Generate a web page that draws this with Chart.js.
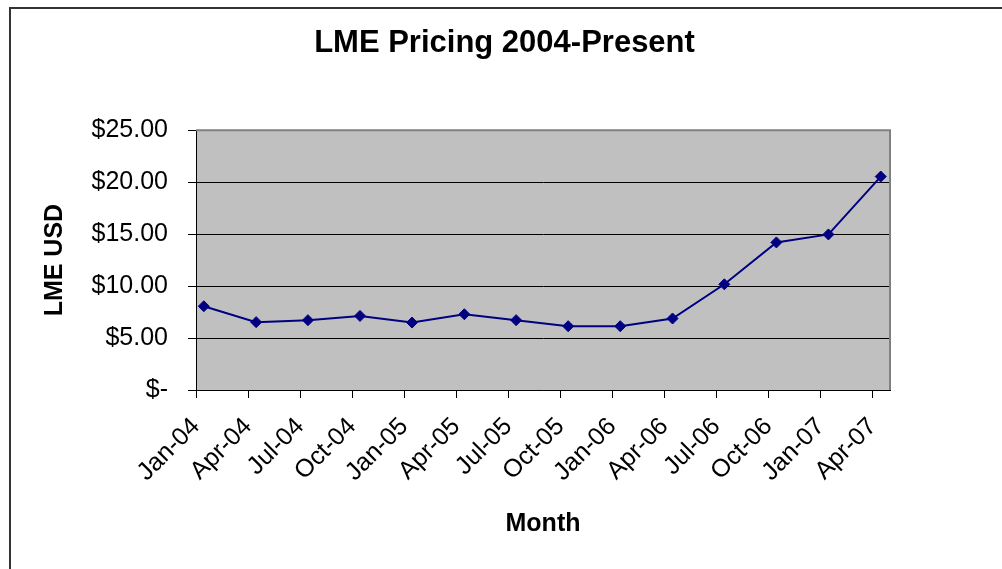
<!DOCTYPE html>
<html>
<head>
<meta charset="utf-8">
<script src="https://cdn.jsdelivr.net/npm/chart.js@4.4.0/dist/chart.umd.min.js"></script>
<style>
  html, body { margin: 0; padding: 0; background: #ffffff; overflow: hidden; }
  #frame { position: absolute; left: 9px; top: 7px; width: 1100px; height: 700px; border: 2px solid #333333; box-sizing: border-box; }
  #wrap { position: absolute; left: 0; top: 0; width: 1002px; height: 569px; }
</style>
</head>
<body>
<div id="frame"></div>
<div id="wrap"><canvas id="c" width="1002" height="569"></canvas></div>
<script>
// ---- data ----
const chartTitle = 'LME Pricing 2004-Present';
const xAxisTitle = 'Month';
const yAxisTitle = 'LME USD';
const categories = ['2004-01-15','2004-04-15','2004-07-15','2004-10-15','2005-01-15','2005-04-15','2005-07-15',
                    '2005-10-15','2006-01-15','2006-04-15','2006-07-15','2006-10-15','2007-01-15','2007-04-15'];
const lmeUsd = [8.06, 6.53, 6.72, 7.13, 6.49, 7.29, 6.72, 6.14, 6.14, 6.88, 10.17, 14.20, 14.97, 20.54];
const xTickLabels = ['Jan-04','Apr-04','Jul-04','Oct-04','Jan-05','Apr-05','Jul-05','Oct-05','Jan-06','Apr-06',
                     'Jul-06','Oct-06','Jan-07','Apr-07'];
const xAxisStart = '2004-01-01';
const xAxisEnd = '2007-05-01';
const yTickValues = [0, 5, 10, 15, 20, 25];
const yTickLabels = ['$-', '$5.00', '$10.00', '$15.00', '$20.00', '$25.00'];

// ---- helpers: convert dates to months since Jan 2004 ----
const monthNames = ['Jan','Feb','Mar','Apr','May','Jun','Jul','Aug','Sep','Oct','Nov','Dec'];
function dateToMonths(s) {
  const [y, m, d] = s.split('-').map(Number);
  const dim = new Date(y, m, 0).getDate();
  return (y - 2004) * 12 + (m - 1) + (d - 1) / dim;
}
function labelToMonths(lbl) {
  const [mn, yy] = lbl.split('-');
  return (2000 + Number(yy) - 2004) * 12 + monthNames.indexOf(mn);
}
const xTickValues = xTickLabels.map(labelToMonths);
const points = categories.map((c, i) => ({ x: dateToMonths(c), y: lmeUsd[i] }));

const FONT = "'Liberation Sans', Arial, sans-serif";

const plotBg = {
  id: 'plotBg',
  beforeDraw(chart) {
    const { ctx, chartArea: a } = chart;
    ctx.save();
    ctx.fillStyle = '#C0C0C0';
    ctx.fillRect(a.left, a.top, a.right - a.left, a.bottom - a.top);
    ctx.restore();
  },
  afterDraw(chart) {
    const { ctx, chartArea: a } = chart;
    ctx.save();
    ctx.strokeStyle = '#808080';
    ctx.lineWidth = 2;
    ctx.beginPath();
    ctx.moveTo(a.left, a.top);
    ctx.lineTo(a.right, a.top);
    ctx.lineTo(a.right, a.bottom);
    ctx.stroke();
    ctx.restore();
  }
};

new Chart(document.getElementById('c'), {
  type: 'line',
  data: {
    datasets: [{
      label: yAxisTitle,
      data: points,
      yAxisID: 'y',
      borderColor: '#000080',
      backgroundColor: '#000080',
      borderWidth: 2,
      pointStyle: 'rectRot',
      pointRadius: 5.5,
      pointBorderWidth: 1,
      pointBackgroundColor: '#000080',
      pointBorderColor: '#000080',
      tension: 0,
      fill: false
    }]
  },
  options: {
    responsive: false,
    animation: false,
    devicePixelRatio: 1,
    layout: { padding: { left: 7, right: 0, top: 0, bottom: 0 } },
    plugins: {
      legend: { display: false },
      tooltip: { enabled: false },
      title: {
        display: true,
        text: chartTitle,
        color: '#000000',
        font: { family: FONT, size: 31, weight: 'bold' },
        padding: { top: 25, bottom: 68 }
      }
    },
    scales: {
      x: {
        type: 'linear',
        min: dateToMonths(xAxisStart),
        max: dateToMonths(xAxisEnd),
        afterBuildTicks(scale) { scale.ticks = xTickValues.map(v => ({ value: v })); },
        afterFit(scale) { scale.height = 179; },
        ticks: {
          autoSkip: false,
          maxRotation: 45,
          minRotation: 45,
          padding: 14,
          color: '#000000',
          font: { family: FONT, size: 25 },
          callback: (v, i) => xTickLabels[i]
        },
        grid: { drawOnChartArea: false, drawTicks: true, tickLength: 8, color: '#000000', lineWidth: 1 },
        border: { color: '#000000', width: 1 },
        title: {
          display: true, text: xAxisTitle, color: '#000000',
          font: { family: FONT, size: 25, weight: 'bold' },
          padding: { top: 0, bottom: 30 }
        }
      },
      y: {
        position: 'left',
        min: 0,
        max: 25,
        afterBuildTicks(scale) { scale.ticks = yTickValues.map(v => ({ value: v })); },
        afterFit(scale) { scale.width = 189; },
        ticks: {
          padding: 20,
          color: '#000000',
          font: { family: FONT, size: 25 },
          callback: (v) => yTickLabels[yTickValues.indexOf(v)]
        },
        grid: { drawTicks: true, tickLength: 8, lineWidth: 1, color: '#000000' },
        border: { color: '#000000', width: 1 },
        title: {
          display: true, text: yAxisTitle, color: '#000000',
          font: { family: FONT, size: 25, weight: 'bold' },
          padding: { top: 33, bottom: 0 }
        }
      },
      spacerRight: {
        type: 'linear',
        position: 'right',
        display: true,
        afterFit(scale) { scale.width = 112; },
        ticks: { display: false },
        grid: { display: false, drawOnChartArea: false },
        border: { display: false }
      }
    }
  },
  plugins: [plotBg]
});
</script>
</body>
</html>
